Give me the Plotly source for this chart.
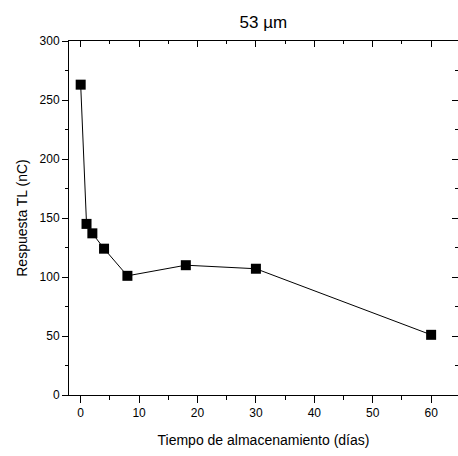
import plotly.graph_objects as go

dias = [0, 1, 2, 4, 8, 18, 30, 60]
respuesta_tl = [263, 145, 137, 124, 101, 110, 107, 51]

title_text = "53 µm"
x_title = "Tiempo de almacenamiento (días)"
y_title = "Respuesta TL (nC)"

x_range = [-2.0, 64.6]
y_range = [0, 300]

FONT = "Liberation Sans, Arial, sans-serif"

fig = go.Figure()
fig.add_trace(go.Scatter(
    x=dias, y=respuesta_tl, mode="lines+markers",
    line=dict(color="black", width=1),
    marker=dict(symbol="square", size=10, color="black"),
    showlegend=False, cliponaxis=False,
))
# invisible trace to anchor mirror axes
fig.add_trace(go.Scatter(x=[None], y=[None], xaxis="x2", yaxis="y2",
                         showlegend=False, hoverinfo="skip"))

common = dict(showgrid=False, zeroline=False, linecolor="black", linewidth=1,
              tickcolor="black", tickwidth=1)

fig.update_layout(
    width=458, height=456,
    margin=dict(l=69, r=0, t=41, b=61),
    paper_bgcolor="white", plot_bgcolor="white",
    font=dict(family=FONT, color="black", size=12),
    title=dict(text=title_text, x=0.575, xanchor="center", y=0.952, yanchor="middle",
               font=dict(size=17, family=FONT, color="black")),
    xaxis=dict(range=x_range, tickvals=[0, 10, 20, 30, 40, 50, 60], ticks="outside",
               ticklen=7, showline=True,
               minor=dict(tickvals=[5, 15, 25, 35, 45, 55], ticks="outside", ticklen=4,
                          tickcolor="black", tickwidth=1),
               title=dict(text=x_title, font=dict(size=14, family=FONT), standoff=15),
               tickfont=dict(size=12, family=FONT), **common),
    yaxis=dict(range=y_range, tickvals=[0, 50, 100, 150, 200, 250, 300], ticks="outside",
               ticklen=6, showline=True,
               minor=dict(tickvals=[25, 75, 125, 175, 225, 275], ticks="outside", ticklen=3,
                          tickcolor="black", tickwidth=1),
               title=dict(text=y_title, font=dict(size=14, family=FONT), standoff=8),
               tickfont=dict(size=12, family=FONT), **common),
    xaxis2=dict(range=x_range, overlaying="x", side="top", anchor="y2",
                tickvals=[0, 10, 20, 30, 40, 50, 60], ticks="inside", ticklen=6,
                showticklabels=False, showline=True,
                minor=dict(tickvals=[5, 15, 25, 35, 45, 55], ticks="inside", ticklen=3,
                           tickcolor="black", tickwidth=1),
                **common),
    yaxis2=dict(range=y_range, overlaying="y", side="right", anchor="x2",
                tickvals=[0, 50, 100, 150, 200, 250, 300], ticks="inside", ticklen=6,
                showticklabels=False, showline=True,
                minor=dict(tickvals=[25, 75, 125, 175, 225, 275], ticks="inside", ticklen=3,
                           tickcolor="black", tickwidth=1),
                **common),
)

fig.write_html("out.html")
